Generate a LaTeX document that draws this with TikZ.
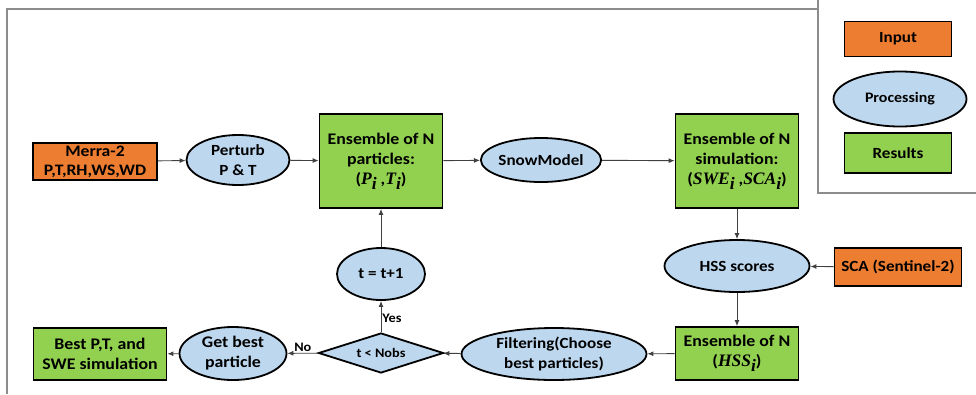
\documentclass[tikz,border=0pt]{standalone}
\usepackage{fontspec}
\setmainfont{Carlito}[FakeStretch=1.1]
\newfontfamily\cambria{Liberation Serif}
\usetikzlibrary{arrows.meta,shapes.geometric}
\definecolor{inC}{HTML}{ED7D31}
\definecolor{procC}{HTML}{BDD7EE}
\definecolor{resC}{HTML}{92D050}
\definecolor{lineC}{HTML}{404040}
\definecolor{frameC}{HTML}{8C8C8C}
\newcommand{\mysub}[1]{\raisebox{-0.3em}{\fontsize{12}{12}\selectfont #1}}
\newcommand{\bi}[1]{{\cambria\bfseries\itshape\fontsize{17.5}{20}\selectfont #1}}
\begin{document}
\begin{tikzpicture}[x=1pt,y=-1pt,
  base/.style={draw=black, line width=1.8pt, inner sep=0pt, align=center,
    text=black, font=\bfseries\fontsize{15.5}{19.5}\selectfont},
  inbox/.style={base, rectangle, fill=inC},
  resbox/.style={base, rectangle, fill=resC},
  bigtext/.style={font=\bfseries\fontsize{16.2}{20}\selectfont},
  proc/.style={base, ellipse, fill=procC},
  decide/.style={base, diamond, aspect=3.1, fill=procC, font=\bfseries\fontsize{13}{15}\selectfont},
  conn/.style={draw=lineC, line width=0.9pt, -{Latex[length=6pt,width=5pt]}},
  lbl/.style={font=\bfseries\fontsize{13}{15}\selectfont, text=black, inner sep=1pt},
  framel/.style={draw=frameC, line width=1.2pt}]
\useasboundingbox (0,0) rectangle (976,394);
% frames
\draw[framel] (7,394) -- (7,9) -- (818,9);
\draw[framel] (818,0) -- (818,193) -- (976,193);
% legend
\node[inbox, minimum width=107pt, minimum height=35pt] (lin) at (898,39) {Input};
\node[proc, minimum width=133pt, minimum height=55pt, font=\bfseries\fontsize{14.5}{18}\selectfont] (lproc) at (900,99) {Processing};
\node[resbox, minimum width=107pt, minimum height=40pt] (lres) at (898,153) {Results};
% top row
\node[inbox, minimum width=124pt, minimum height=37pt, font=\bfseries\fontsize{16}{19}\selectfont] (merra) at (95,161.5) {Merra-2\\P,T,RH,WS,WD};
\node[proc, minimum width=103pt, minimum height=50pt] (perturb) at (238,160) {Perturb\\P \& T};
\node[resbox, bigtext, minimum width=123pt, minimum height=94pt] (ensp) at (381,161) {Ensemble of N\\particles:\\(\bi{P}\mysub{\bi{i}} ,\bi{T}\mysub{\bi{i}})};
\node[proc, minimum width=93pt, minimum height=44pt] (snow) at (541,160) {SnowModel};
\node[resbox, bigtext, minimum width=123pt, minimum height=94pt] (enss) at (737,161) {Ensemble of N\\simulation:\\(\bi{SWE}\mysub{\bi{i}} ,\bi{SCA}\mysub{\bi{i}})};
% middle
\node[proc, minimum width=145pt, minimum height=52pt] (hss) at (737,266) {HSS scores};
\node[inbox, minimum width=127pt, minimum height=38pt] (sca) at (898,267) {SCA (Sentinel-2)};
\node[proc, minimum width=88pt, minimum height=52pt] (tinc) at (381,274) {t = t+1};
% bottom row
\node[resbox, bigtext, minimum width=123pt, minimum height=53pt] (ensh) at (737,353.5) {Ensemble of N\\(\bi{HSS}\mysub{\bi{i}})};
\node[proc, minimum width=185pt, minimum height=52pt] (filt) at (554,354) {Filtering(Choose\\best particles)};
\node[decide, minimum width=125pt, minimum height=40pt] (dec) at (381,353) {t < Nobs};
\node[proc, minimum width=107pt, minimum height=53pt, bigtext] (getb) at (233,353.5) {Get best\\particle};
\node[resbox, bigtext, minimum width=133pt, minimum height=52pt] (best) at (100,354) {Best P,T, and\\SWE simulation};
% connectors
\draw[conn] (merra) -- (perturb);
\draw[conn] (perturb) -- (ensp);
\draw[conn] (ensp) -- (snow);
\draw[conn] (snow) -- (enss);
\draw[conn] (enss) -- (hss);
\draw[conn] (sca) -- (hss);
\draw[conn] (hss) -- (ensh);
\draw[conn] (ensh) -- (filt);
\draw[conn] (filt) -- (dec);
\draw[conn] (dec) -- node[lbl, above] {No} (getb);
\draw[conn] (getb) -- (best);
\draw[conn] (dec) -- node[lbl, right, pos=0.45] {Yes} (tinc);
\draw[conn] (tinc) -- (ensp);
\end{tikzpicture}
\end{document}
